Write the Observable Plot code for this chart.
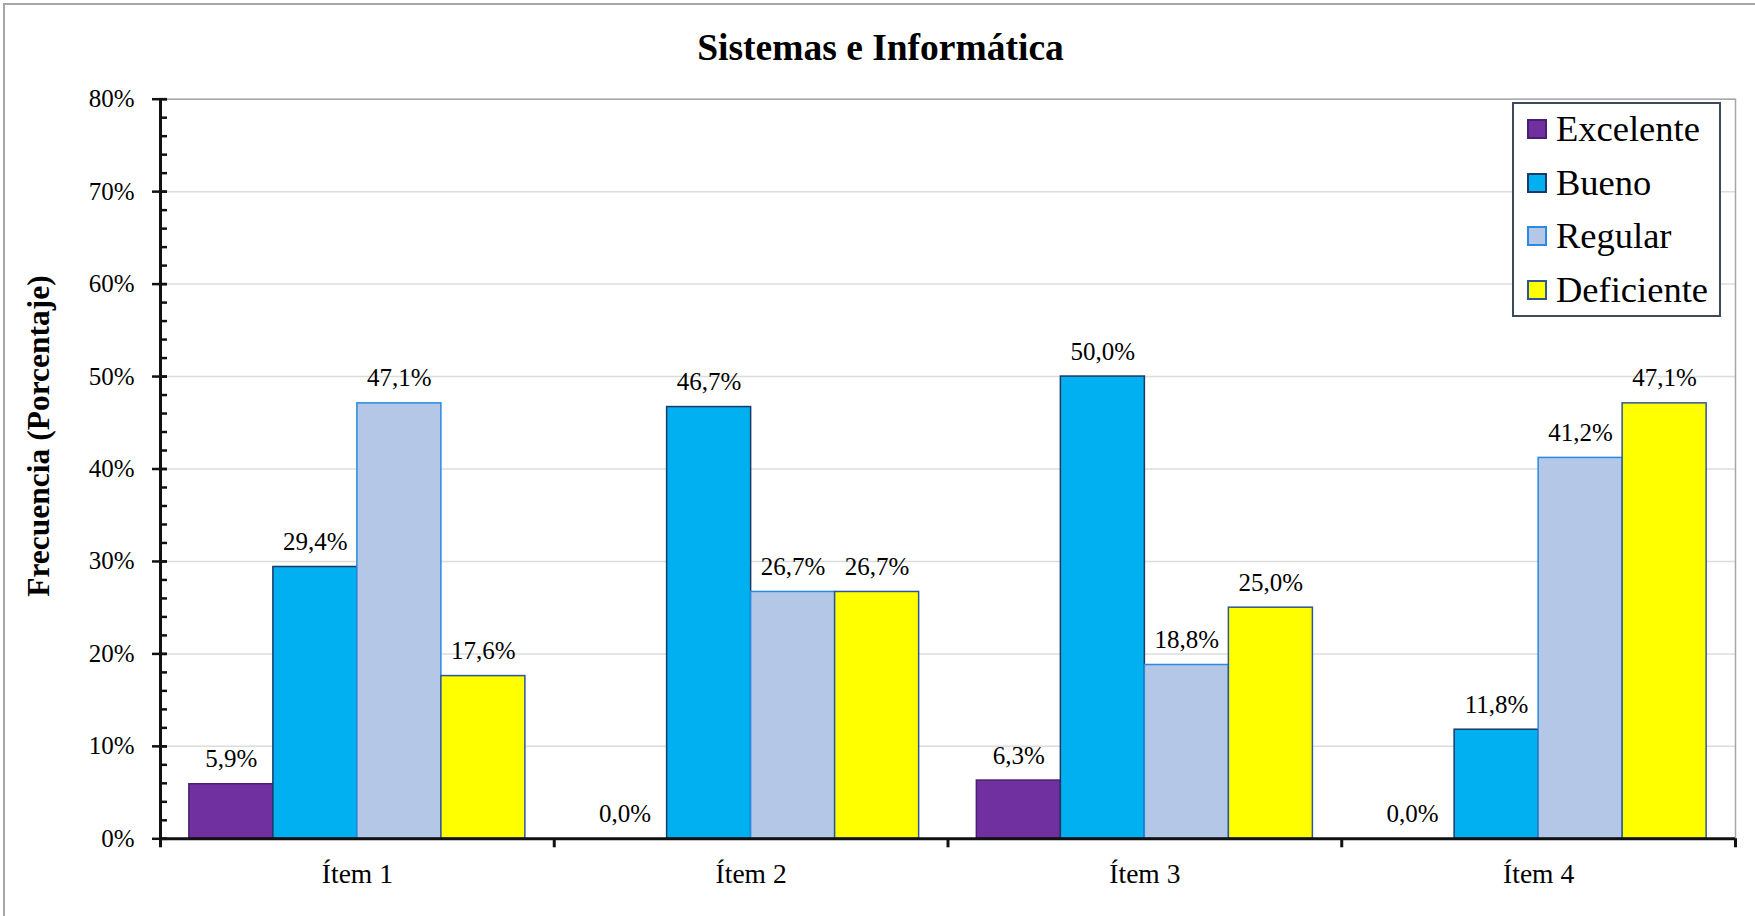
<!DOCTYPE html>
<html lang="es">
<head>
<meta charset="utf-8">
<title>Sistemas e Informática</title>
<script src="https://cdn.jsdelivr.net/npm/d3@7"></script>
<script src="https://cdn.jsdelivr.net/npm/@observablehq/plot@0.6"></script>
<style>
  html, body { margin: 0; padding: 0; background: #fff; }
  #chart {
    position: relative; width: 1755px; height: 916px; overflow: hidden;
    font-family: "Liberation Serif", "Times New Roman", serif; color: #000;
  }
  #chart svg { position: absolute; left: 0; top: 0; }
  .outline {
    position: absolute; left: 3px; top: 3px; width: 1800px; height: 1000px;
    border-left: 2px solid #a6a6a6; border-top: 2px solid #a6a6a6; box-sizing: border-box;
  }
  .title {
    position: absolute; left: 3px; width: 1755px; top: 29px; text-align: center;
    font-size: 37.5px; font-weight: bold; line-height: 37px; white-space: nowrap;
  }
  .ytitle {
    position: absolute; left: 39px; top: 436px; white-space: nowrap;
    font-size: 31.5px; font-weight: bold; line-height: 31.5px;
    transform: translate(-50%, -50%) rotate(-90deg);
  }
  .legend {
    position: absolute; left: 1512px; top: 102px; width: 209px; height: 215px;
    box-sizing: border-box; border: 2px solid #3d4a5c; background: #fff;
  }
  .legend .rows { position: relative; top: -1.5px; }
  .legend .row { display: flex; align-items: center; height: 53.5px; padding-left: 12.7px; }
  .legend .sw { width: 20px; height: 20px; box-sizing: border-box; border: 2px solid; margin-right: 9.3px; }
  .legend .lbl { font-size: 36.5px; line-height: 40px; white-space: nowrap; }
</style>
</head>
<body>
<div id="chart"></div>
<script>
// Categories and series
const items = ["Ítem 1", "Ítem 2", "Ítem 3", "Ítem 4"];
const series = ["Excelente", "Bueno", "Regular", "Deficiente"];

// Percentages per series, one value per item
const excelente = [5.9, 0.0, 6.3, 0.0];
const bueno = [29.4, 46.7, 50.0, 11.8];
const regular = [47.1, 26.7, 18.8, 41.2];
const deficiente = [17.6, 26.7, 25.0, 47.1];

// Y axis ticks (fractions)
const majorTicks = [0, 0.1, 0.2, 0.3, 0.4, 0.5, 0.6, 0.7, 0.8];
const minorTicks = d3.range(0, 41).map(i => i / 50);

// Series styling
const fills = ["#7030A0", "#00B0F0", "#B4C7E7", "#FFFF00"];
const strokes = ["#4b1f6f", "#1f3864", "#2a8ae0", "#2f5597"];

const seriesValues = [excelente, bueno, regular, deficiente];

// Each item occupies one unit on x; bars are grouped side by side inside it
const groupPad = 0.0733;
const barWidth = (1 - 2 * groupPad) / series.length;

const rows = items.flatMap((item, i) =>
  series.map((s, k) => {
    const x1 = i + groupPad + k * barWidth;
    return {
      item, series: s, value: seriesValues[k][i],
      x1, x2: x1 + barWidth, xm: x1 + barWidth / 2,
      fill: fills[k], stroke: strokes[k]
    };
  })
);

const pct = v => v.toFixed(1).replace(".", ",") + "%";
const axisColor = "#111";

const plot = Plot.plot({
  width: 1755,
  height: 916,
  marginTop: 98.7,
  marginBottom: 77.7,
  marginLeft: 160,
  marginRight: 20,
  style: {
    fontFamily: "'Liberation Serif', 'Times New Roman', serif",
    background: "none",
    color: "#000",
    overflow: "visible"
  },
  x: { domain: [0, items.length], axis: null },
  y: { domain: [0, 0.8], axis: null },
  marks: [
    Plot.gridY(majorTicks, { stroke: "#dcdcdc", strokeOpacity: 1, strokeWidth: 1.5 }),
    Plot.frame({ stroke: "#a6a6a6", strokeWidth: 1.5 }),
    Plot.rectY(rows, {
      x1: "x1", x2: "x2", y1: 0, y2: d => d.value / 100,
      fill: "fill", stroke: "stroke", strokeWidth: 1.5
    }),
    Plot.text(rows, {
      x: "xm", y: d => d.value / 100, text: d => pct(d.value),
      lineAnchor: "bottom", dy: -17, fontSize: 25, fill: "#000"
    }),
    // axis lines
    Plot.ruleY([0], { stroke: axisColor, strokeWidth: 3 }),
    Plot.ruleX([0], { y1: 0, y2: 0.8, stroke: axisColor, strokeWidth: 3 }),
    // y ticks: minor ticks inside, major ticks crossing the axis
    Plot.ruleY(minorTicks, { y: d => d, x1: 0, x2: 0, insetRight: -7, stroke: axisColor, strokeWidth: 2.5 }),
    Plot.ruleY(majorTicks, { y: d => d, x1: 0, x2: 0, insetLeft: -8, insetRight: -7, stroke: axisColor, strokeWidth: 2.5 }),
    // x ticks at category boundaries
    Plot.ruleX(d3.range(0, items.length + 1), { y1: 0, y2: 0, insetBottom: -9, stroke: axisColor, strokeWidth: 3 }),
    Plot.axisY({
      ticks: majorTicks, tickSize: 0, tickPadding: 26, fontSize: 25,
      tickFormat: d3.format(".0%"), label: null
    }),
    Plot.axisX({
      ticks: items.map((_, i) => i + 0.5), tickSize: 0, tickPadding: 25, fontSize: 27.5,
      tickFormat: d => items[Math.floor(d)], label: null
    })
  ]
});

const chart = document.getElementById("chart");
chart.appendChild(plot);

const outline = document.createElement("div");
outline.className = "outline";
chart.appendChild(outline);

const title = document.createElement("div");
title.className = "title";
title.textContent = "Sistemas e Informática";
chart.appendChild(title);

const ytitle = document.createElement("div");
ytitle.className = "ytitle";
ytitle.textContent = "Frecuencia (Porcentaje)";
chart.appendChild(ytitle);

const legend = document.createElement("div");
legend.className = "legend";
const legendRows = document.createElement("div");
legendRows.className = "rows";
series.forEach((s, k) => {
  const row = document.createElement("div");
  row.className = "row";
  const sw = document.createElement("div");
  sw.className = "sw";
  sw.style.background = fills[k];
  sw.style.borderColor = strokes[k];
  const lbl = document.createElement("div");
  lbl.className = "lbl";
  lbl.textContent = s;
  row.appendChild(sw);
  row.appendChild(lbl);
  legendRows.appendChild(row);
});
legend.appendChild(legendRows);
chart.appendChild(legend);
</script>
</body>
</html>
